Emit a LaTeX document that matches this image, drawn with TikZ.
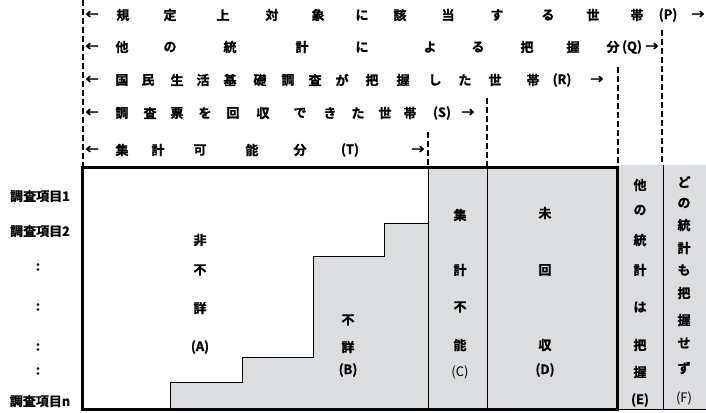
\documentclass[tikz,border=0pt]{standalone}
\usepackage{fontspec}
\setmainfont{Noto Sans CJK JP}[BoldFont={Noto Sans CJK JP Bold},BoldFeatures={FakeBold=1.2}]
\definecolor{cellgray}{HTML}{DCDDDF}
\begin{document}
\begin{tikzpicture}[x=1pt,y=-1pt,
  lbl/.style={inner sep=0pt,font=\fontsize{13}{14}\selectfont\bfseries},
  lblr/.style={inner sep=0pt,font=\fontsize{13}{14}\selectfont},
  dash line/.style={line width=2pt,dash pattern=on 6pt off 3pt},
  thin line/.style={line width=0.8pt},
  thick box/.style={line width=3pt}]
\useasboundingbox (0,0) rectangle (706,412);
% gray fills
\fill[cellgray] (170,409) -- (170,382) -- (242,382) -- (242,357) -- (313,357) -- (313,256)
  -- (384,256) -- (384,223) -- (428,223) -- (428,167) -- (617,167) -- (617,409) -- cycle;
\fill[cellgray] (617,165) rectangle (706,409);
% staircase and column lines
\draw[thin line] (170,409) -- (170,382) -- (242,382) -- (242,357) -- (313,357) -- (313,256)
  -- (384,256) -- (384,223) -- (428,223);
\coordinate (ctop) at (428,167); \coordinate (cbot) at (428,409);
\coordinate (dtop) at (487,167); \coordinate (dbot) at (487,409);
\coordinate (ftop) at (663,165); \coordinate (fbot) at (663,409);
\draw[thin line] (ctop) -- (cbot);
\draw[thin line] (dtop) -- (dbot);
\draw[thin line] (ftop) -- (fbot);
\draw[thin line] (617,409.5) -- (706,409.5);
\draw[thick box] (82,167) rectangle (617,409);
% dashed guide lines
\coordinate (l0) at (83,0);    \coordinate (l1) at (83,167);
\coordinate (q0) at (662,30);  \coordinate (q1) at (662,165);
\coordinate (r0) at (618,67);  \coordinate (r1) at (618,165);
\coordinate (s0) at (487,98);  \coordinate (s1) at (487,166);
\coordinate (t0) at (428,132); \coordinate (t1) at (428,166);
\draw[dash line] (l0) -- (l1);
\draw[dash line] (q0) -- (q1);
\draw[dash line] (r0) -- (r1);
\draw[dash line] (s0) -- (s1);
\draw[dash line] (t0) -- (t1);
% row P
\foreach \x/\t [count=\i] in {92/←,123/規,170/定,223/上,272/対,318/象,362/に,400/該,448/当,497/す,548/る,593/世,637/帯,668/{(P)},698/→}
  \node[lbl] (p\i) at (\x,15) {\t};
% row Q
\foreach \x/\t [count=\i] in {92/←,122/他,170/の,230/統,302/計,362/に,430/よ,478/る,527/把,573/握,613/分,632/{(Q)},652/→}
  \node[lbl] (q\i) at (\x,47) {\t};
% row R
\foreach \x/\t [count=\i] in {92/←,122/国,148/民,177/生,203/活,230/基,260/礎,288/調,315/査,342/が,372/把,403/握,435/し,465/た,495/世,533/帯,562/{(R)},597/→}
  \node[lbl] (r\i) at (\x,80) {\t};
% row S
\foreach \x/\t [count=\i] in {92/←,122/調,150/査,177/票,205/を,233/回,263/収,300/で,330/き,358/た,385/世,410/帯,442/{(S)},468/→}
  \node[lbl] (s\i) at (\x,113) {\t};
% row T
\foreach \x/\t [count=\i] in {92/←,122/集,158/計,200/可,252/能,300/分,350/{(T)},418/→}
  \node[lbl] (t\i) at (\x,150) {\t};
% left labels
\node[lbl] (item1) at (40,196) {調査項目1};
\node[lbl] (item2) at (40,231) {調査項目2};
\foreach \y [count=\i] in {267,307,347,371}
  \node[lbl] (dot\i) at (38,\y) {:};
\node[lbl] (itemn) at (40,401) {調査項目n};
% A
\foreach \y/\t [count=\i] in {240/非,270/不,308/詳,347/{(A)}}
  \node[lbl] (a\i) at (200,\y) {\t};
% B
\foreach \y/\t [count=\i] in {320/不,347/詳,370/{(B)}}
  \node[lbl] (b\i) at (348,\y) {\t};
% C
\foreach \y/\t [count=\i] in {215/集,270/計,307/不,345/能}
  \node[lbl] (c\i) at (460,\y) {\t};
\node[lblr] (c5) at (460,372) {(C)};
% D
\foreach \y/\t [count=\i] in {213/未,270/回,345/収,370/{(D)}}
  \node[lbl] (d\i) at (545,\y) {\t};
% E
\foreach \y/\t [count=\i] in {185/他,210/の,240/統,270/計,307/は,345/把,372/握,400/{(E)}}
  \node[lbl] (e\i) at (640,\y) {\t};
% F
\foreach \y/\t [count=\i] in {182/ど,203/の,225/統,248/計,270/も,293/把,320/握,343/せ,368/ず}
  \node[lbl] (f\i) at (684,\y) {\t};
\node[lblr] (f10) at (684,398) {(F)};
\end{tikzpicture}
\end{document}
